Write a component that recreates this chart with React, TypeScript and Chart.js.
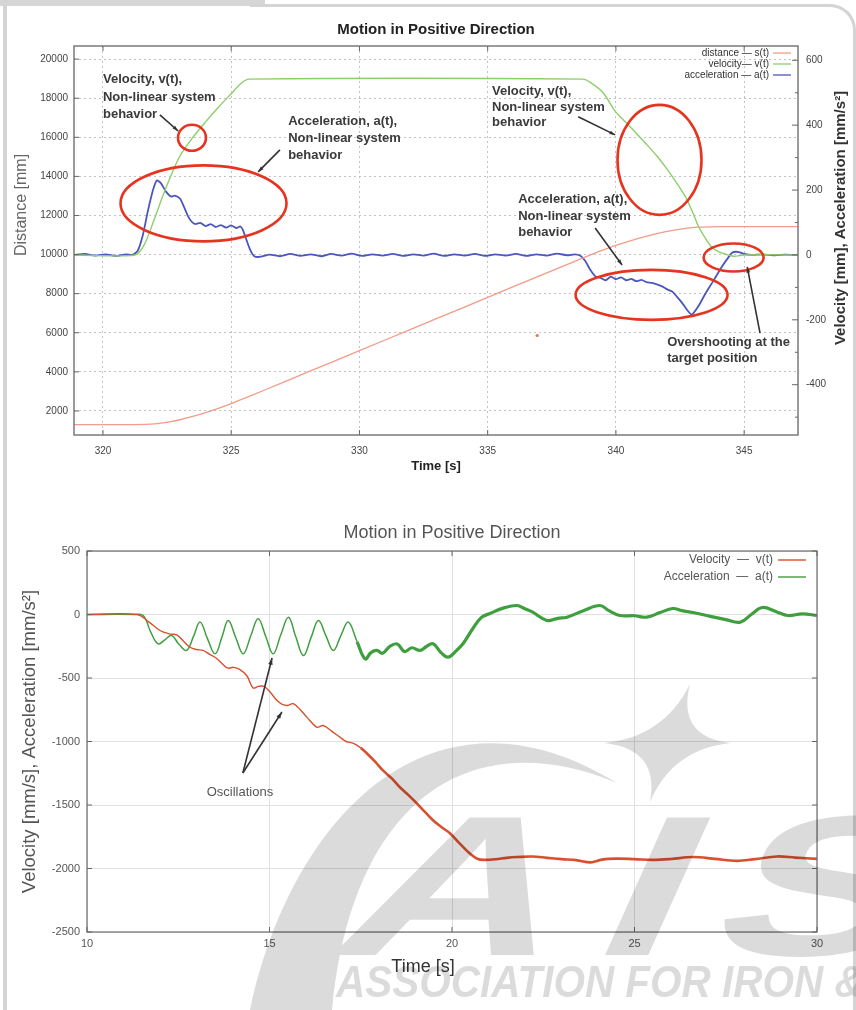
import React, { useEffect, useRef } from 'react';
import { Chart, registerables } from 'chart.js';

Chart.register(...registerables);

const FONT = "'Liberation Sans', Arial, Helvetica, sans-serif";
Chart.defaults.font.family = FONT;

/* ================= TOP CHART DATA ================= */
const topTitle = 'Motion in Positive Direction';
const topTimeTicks = [320, 325, 330, 335, 340, 345];
const topDistanceTicks = [2000, 4000, 6000, 8000, 10000, 12000, 14000, 16000, 18000, 20000];
const topRateTicks = [-400, -200, 0, 200, 400, 600];
const topSeriesLabels = ['distance — s(t)', 'velocity— v(t)', 'acceleration — a(t)'];
const topSeriesColors = ['#f29c89', '#8ccf6a', '#4b57bd'];

// distance s(t) [mm] (left axis): [time s, value]
const topDistance: number[][] = [
  [318.87, 1300], [321.25, 1300], [322.0, 1335], [322.6, 1440], [323.0, 1550], [323.5, 1720],
  [324.0, 1915], [324.5, 2135], [325.0, 2375], [325.7, 2745], [327, 3450], [329, 4540],
  [331, 5630], [333, 6720], [335, 7810], [337, 8900], [338.7, 9820], [339.5, 10240],
  [340.0, 10475], [341.17, 10930], [341.95, 11170], [342.72, 11340], [343.23, 11400],
  [343.74, 11420], [344.28, 11428], [347.1, 11430],
];

// velocity v(t) (right axis)
const topVelocity: number[][] = [
  [318.87, 0], [321.25, 0], [321.6, 30], [322.0, 110], [322.3, 175], [322.6, 235], [323.0, 305],
  [323.5, 362], [324.0, 410], [324.5, 455], [325.0, 497], [325.4, 530], [325.7, 542],
  [338.7, 542], [339.0, 532], [339.5, 500], [340.0, 440], [340.5, 400], [341.17, 343],
  [341.6, 305], [341.95, 269], [342.3, 230], [342.72, 178], [343.0, 130], [343.23, 86],
  [343.5, 50], [343.74, 24], [344.0, 10], [344.28, 2], [344.6, -4], [345.0, 0], [347.1, 0],
];

// acceleration a(t) (right axis)
const topAcceleration: number[][] = [
  [318.87, 0], [319.3, 3], [319.7, -2], [320.1, 2], [320.5, -3], [320.9, 2], [321.15, 0],
  [321.35, 12], [321.55, 60], [321.75, 135], [321.95, 200], [322.1, 230], [322.25, 222],
  [322.45, 196], [322.65, 180], [322.8, 183], [323.0, 174], [323.15, 150], [323.3, 122],
  [323.45, 103], [323.6, 95], [323.8, 99], [324.0, 89], [324.2, 95], [324.4, 86], [324.6, 92],
  [324.8, 84], [325.0, 91], [325.2, 83], [325.35, 88], [325.45, 78], [325.6, 45], [325.75, 14],
  [325.9, -4], [326.1, -6], [326.5, 1], [326.9, -4], [327.3, 3], [327.7, -3], [328.1, 2],
  [328.5, -4], [328.9, 3], [329.3, -2], [329.7, 4], [330.1, -3], [330.5, 2], [330.9, -2],
  [331.3, 3], [331.7, -3], [332.1, 2], [332.5, -2], [332.9, 4], [333.3, -3], [333.7, 2],
  [334.1, -2], [334.5, 3], [334.9, -3], [335.3, 2], [335.7, -2], [336.1, 3], [336.5, -3],
  [336.9, 2], [337.3, -2], [337.7, 4], [338.1, -1], [338.4, 2], [338.6, -2], [338.8, -18],
  [339.0, -46], [339.2, -66], [339.4, -71], [339.6, -78], [339.8, -67], [340.0, -75],
  [340.2, -69], [340.4, -78], [340.6, -74], [340.8, -81], [341.0, -77], [341.2, -84],
  [341.4, -86], [341.6, -91], [341.8, -97], [342.0, -106], [342.2, -113], [342.4, -131],
  [342.6, -150], [342.8, -172], [342.96, -184], [343.2, -160], [343.5, -118], [343.8, -80],
  [344.1, -40], [344.4, -6], [344.55, 8], [344.8, 9], [345.0, 3], [345.3, 0], [345.7, 2],
  [346.2, -1], [346.6, 1], [347.1, 0],
];

// stray red mark in the plot (left axis)
const topStray: number[][] = [[336.93, 5860]];

// annotations (x in s, y on right axis)
const topEllipses = [
  { t: 323.47, v: 361, rx: 14, ry: 13 },
  { t: 323.92, v: 159, rx: 83, ry: 38 },
  { t: 341.7, v: 293, rx: 42, ry: 55 },
  { t: 341.39, v: -123, rx: 76, ry: 25 },
  { t: 344.59, v: -8, rx: 30, ry: 14 },
];
const topNotes = [
  { t: 320.0, v: 540, gap: 17.5, lines: ['Velocity, v(t),', 'Non-linear system', 'behavior'] },
  { t: 327.22, v: 413, gap: 17, lines: ['Acceleration, a(t),', 'Non-linear system', 'behavior'] },
  { t: 335.17, v: 503, gap: 15.5, lines: ['Velocity, v(t),', 'Non-linear system', 'behavior'] },
  { t: 336.19, v: 170, gap: 16.5, lines: ['Acceleration, a(t),', 'Non-linear system', 'behavior'] },
  { t: 342.0, v: -271, gap: 15.5, lines: ['Overshooting at the', 'target position'] },
];
const topArrows = [
  { t1: 322.22, v1: 432, t2: 322.93, v2: 382 },
  { t1: 326.9, v1: 324, t2: 326.05, v2: 256 },
  { t1: 338.53, v1: 426, t2: 339.97, v2: 370 },
  { t1: 339.19, v1: 83, t2: 340.24, v2: -31 },
  { t1: 345.62, v1: -241, t2: 345.12, v2: -37 },
];

/* ================= BOTTOM CHART DATA ================= */
const bottomTitle = 'Motion in Positive Direction';
const bottomTimeTicks = [10, 15, 20, 25, 30];
const bottomValueTicks = [-2500, -2000, -1500, -1000, -500, 0, 500];
const bottomSeriesLabels = ['Velocity  —  v(t)', 'Acceleration  —  a(t)'];
const bottomSeriesColors = ['#d9502f', '#3f9f3f'];

const bottomVelocity: number[][] = [
  [10, 0], [11.37, 0], [11.7, -60], [12.0, -126], [12.25, -152], [12.47, -162], [12.65, -212],
  [12.82, -258], [13.0, -276], [13.18, -282], [13.35, -312], [13.56, -348], [13.72, -392],
  [13.86, -422], [14.02, -416], [14.18, -432], [14.38, -482], [14.55, -578], [14.7, -566],
  [14.85, -566], [15.02, -612], [15.2, -676], [15.35, -708], [15.5, -716], [15.65, -702],
  [15.85, -752], [16.03, -810], [16.3, -888], [16.47, -874], [16.7, -918], [16.93, -966],
  [17.1, -1000], [17.3, -1014], [17.5, -1050], [17.67, -1094], [17.9, -1160], [18.1, -1226],
  [18.35, -1290], [18.58, -1362], [18.8, -1420], [19.04, -1488], [19.25, -1552], [19.48, -1620],
  [19.7, -1672], [19.95, -1724], [20.2, -1800], [20.45, -1872], [20.71, -1925], [20.9, -1932],
  [21.2, -1927], [21.5, -1916], [21.8, -1910], [22.2, -1906], [22.6, -1916], [23.0, -1926],
  [23.4, -1934], [23.8, -1952], [24.1, -1930], [24.5, -1922], [25.0, -1926], [25.5, -1932],
  [26.0, -1925], [26.6, -1910], [27.2, -1924], [27.8, -1940], [28.3, -1926], [28.9, -1905],
  [29.4, -1914], [30, -1924],
];

const bottomAcceleration: number[][] = [
  [10, 0], [11.3, 0], [11.54, -8], [11.75, -140], [11.95, -231], [12.15, -195], [12.32, -165],
  [12.52, -235], [12.73, -283], [12.92, -170], [13.1, -60], [13.3, -190], [13.51, -310],
  [13.7, -175], [13.87, -47], [14.08, -185], [14.28, -310], [14.49, -165], [14.69, -34],
  [14.9, -175], [15.1, -310], [15.31, -160], [15.52, -21], [15.72, -175], [15.93, -323],
  [16.14, -180], [16.34, -47], [16.55, -170], [16.75, -283], [16.95, -170], [17.16, -60],
  [17.4, -215], [17.62, -349], [17.78, -300], [17.94, -283], [18.1, -305], [18.3, -250],
  [18.5, -232], [18.7, -292], [18.9, -262], [19.12, -283], [19.3, -252], [19.48, -231],
  [19.7, -300], [19.89, -336], [20.1, -290], [20.3, -231], [20.55, -120], [20.8, -25],
  [21.04, 8], [21.4, 50], [21.78, 71], [22.0, 45], [22.2, 20], [22.6, -47], [22.9, -30],
  [23.15, -21], [23.6, 30], [24.05, 71], [24.3, 30], [24.6, -8], [25.0, -10], [25.34, -21],
  [25.7, 15], [26.05, 47], [26.3, 30], [26.6, 16], [27.0, -10], [27.5, -40], [27.9, -60],
  [28.2, 0], [28.5, 55], [28.9, 20], [29.2, -8], [29.6, 5], [30, -8],
];

const bottomNote = { t: 14.19, v: -1398, text: 'Oscillations' };
const bottomArrows = [
  { t1: 14.27, v1: -1248, t2: 15.07, v2: -343 },
  { t1: 14.27, v1: -1248, t2: 15.34, v2: -768 },
];

/* ================= helpers ================= */
const toXY = (arr: number[][]) => arr.map(([x, y]) => ({ x, y }));

function drawArrow(ctx: any, x1: number, y1: number, x2: number, y2: number, head: number) {
  ctx.beginPath();
  ctx.moveTo(x1, y1);
  ctx.lineTo(x2, y2);
  ctx.stroke();
  const ang = Math.atan2(y2 - y1, x2 - x1);
  ctx.beginPath();
  ctx.moveTo(x2, y2);
  ctx.lineTo(x2 - head * Math.cos(ang - 0.32), y2 - head * Math.sin(ang - 0.32));
  ctx.lineTo(x2 - head * Math.cos(ang + 0.32), y2 - head * Math.sin(ang + 0.32));
  ctx.closePath();
  ctx.fill();
}

function rotatedText(ctx: any, text: string, x: number, y: number, font: string, color: string) {
  ctx.save();
  ctx.translate(x, y);
  ctx.rotate(-Math.PI / 2);
  ctx.font = font;
  ctx.fillStyle = color;
  ctx.textAlign = 'center';
  ctx.textBaseline = 'middle';
  ctx.fillText(text, 0, 0);
  ctx.restore();
}

function drawWatermark(ctx: any, oy: number) {
  const off = document.createElement('canvas');
  off.width = 856;
  off.height = 505;
  const o = off.getContext('2d') as any;
  o.fillStyle = '#000';
  // crescent swoosh
  o.beginPath();
  o.moveTo(250, 1010 - oy);
  o.bezierCurveTo(290, 820 - oy, 430, 668 - oy, 617, 783 - oy);
  o.bezierCurveTo(470, 722 - oy, 352, 800 - oy, 332, 1010 - oy);
  o.closePath();
  o.fill();
  // four point star
  const cx = 668, cy = 743 - oy;
  const pts = [[690, 684 - oy], [731, 743 - oy], [650, 802 - oy], [604, 743 - oy]];
  o.beginPath();
  o.moveTo(pts[0][0], pts[0][1]);
  for (let i = 1; i <= 4; i++) {
    const p = pts[i % 4];
    const q = pts[i - 1];
    const mx = (p[0] + q[0]) / 2, my = (p[1] + q[1]) / 2;
    o.quadraticCurveTo(cx + (mx - cx) * 0.2, cy + (my - cy) * 0.2, p[0], p[1]);
  }
  o.closePath();
  o.fill();
  // big letters
  o.font = `bold 200px ${FONT}`;
  o.textBaseline = 'alphabetic';
  const letters: [string, number][] = [['A', 325], ['I', 585], ['S', 700]];
  letters.forEach(([ch, lx]) => {
    o.save();
    o.translate(lx, 955 - oy);
    o.transform(1, 0, -0.45, 1, 0, 0);
    o.scale(1.5, 1);
    o.fillText(ch, 0, 0);
    o.restore();
  });
  // tagline
  o.save();
  o.translate(336, 997 - oy);
  o.scale(0.92, 1);
  o.font = `italic bold 44px ${FONT}`;
  o.fillText('ASSOCIATION FOR IRON & STEEL TECHNOLOGY', 0, 0);
  o.restore();

  ctx.save();
  ctx.globalAlpha = 0.14;
  ctx.drawImage(off, 0, 0);
  ctx.restore();
}

/* ================= plugins ================= */
const topDeco = {
  id: 'topDeco',
  afterDraw(chart: any) {
    const { ctx, chartArea: a, scales } = chart;
    const x = scales.x, y = scales.y, y2 = scales.y2;
    ctx.save();
    // frame
    ctx.strokeStyle = '#7a7a7a';
    ctx.lineWidth = 1.5;
    ctx.strokeRect(a.left, a.top, a.right - a.left, a.bottom - a.top);
    // inward ticks
    ctx.lineWidth = 1;
    ctx.strokeStyle = '#666';
    ctx.beginPath();
    topTimeTicks.forEach((v) => {
      const px = x.getPixelForValue(v);
      ctx.moveTo(px, a.bottom); ctx.lineTo(px, a.bottom - 5);
      ctx.moveTo(px, a.top); ctx.lineTo(px, a.top + 5);
    });
    topDistanceTicks.forEach((v) => {
      const py = y.getPixelForValue(v);
      ctx.moveTo(a.left, py); ctx.lineTo(a.left + 5, py);
    });
    for (let v = -500; v <= 600; v += 100) {
      const py = y2.getPixelForValue(v);
      const len = v % 200 === 0 ? 6 : 3;
      ctx.moveTo(a.right, py); ctx.lineTo(a.right - len, py);
    }
    ctx.stroke();

    // legend
    ctx.font = `10px ${FONT}`;
    ctx.textAlign = 'right';
    ctx.textBaseline = 'middle';
    topSeriesLabels.forEach((label, i) => {
      const ly = a.top + 7 + i * 11;
      ctx.fillStyle = '#333';
      ctx.fillText(label, a.right - 29, ly);
      ctx.strokeStyle = topSeriesColors[i];
      ctx.lineWidth = 1.3;
      ctx.beginPath();
      ctx.moveTo(a.right - 25, ly); ctx.lineTo(a.right - 7, ly);
      ctx.stroke();
    });

    // axis titles
    rotatedText(ctx, 'Distance [mm]', 22, 205, `16px ${FONT}`, '#666');
    rotatedText(ctx, 'Velocity [mm], Acceleration [mm/s²]', 841, 218, `bold 15px ${FONT}`, '#333');

    // ellipses
    ctx.strokeStyle = '#e5341f';
    ctx.lineWidth = 2.6;
    topEllipses.forEach((e) => {
      ctx.beginPath();
      ctx.ellipse(x.getPixelForValue(e.t), y2.getPixelForValue(e.v), e.rx, e.ry, 0, 0, Math.PI * 2);
      ctx.stroke();
    });

    // arrows
    ctx.strokeStyle = '#333';
    ctx.fillStyle = '#333';
    ctx.lineWidth = 1.6;
    topArrows.forEach((r) => {
      drawArrow(ctx, x.getPixelForValue(r.t1), y2.getPixelForValue(r.v1),
        x.getPixelForValue(r.t2), y2.getPixelForValue(r.v2), 6);
    });

    // notes
    ctx.font = `bold 13px ${FONT}`;
    ctx.textAlign = 'left';
    ctx.textBaseline = 'middle';
    ctx.fillStyle = '#3a3a3a';
    topNotes.forEach((n) => {
      const px = x.getPixelForValue(n.t);
      const py = y2.getPixelForValue(n.v);
      n.lines.forEach((line, i) => ctx.fillText(line, px, py + i * n.gap));
    });
    ctx.restore();
  },
};

const bottomDeco = {
  id: 'bottomDeco',
  afterDatasetsDraw(chart: any) {
    const { ctx, chartArea: a, scales } = chart;
    const x = scales.x, y = scales.y;
    ctx.save();
    ctx.strokeStyle = '#6d6d6d';
    ctx.lineWidth = 1.2;
    ctx.strokeRect(a.left, a.top, a.right - a.left, a.bottom - a.top);
    ctx.lineWidth = 1;
    ctx.strokeStyle = '#666';
    ctx.beginPath();
    bottomTimeTicks.forEach((v) => {
      const px = x.getPixelForValue(v);
      ctx.moveTo(px, a.bottom); ctx.lineTo(px, a.bottom - 5);
      ctx.moveTo(px, a.top); ctx.lineTo(px, a.top + 5);
    });
    bottomValueTicks.forEach((v) => {
      const py = y.getPixelForValue(v);
      ctx.moveTo(a.left, py); ctx.lineTo(a.left + 5, py);
      ctx.moveTo(a.right, py); ctx.lineTo(a.right - 5, py);
    });
    ctx.stroke();

    // legend
    ctx.font = `12px ${FONT}`;
    ctx.textAlign = 'right';
    ctx.textBaseline = 'middle';
    bottomSeriesLabels.forEach((label, i) => {
      const ly = a.top + 9 + i * 17;
      ctx.fillStyle = '#555';
      ctx.fillText(label, a.right - 44, ly);
      ctx.strokeStyle = bottomSeriesColors[i];
      ctx.lineWidth = 1.4;
      ctx.beginPath();
      ctx.moveTo(a.right - 39, ly); ctx.lineTo(a.right - 11, ly);
      ctx.stroke();
    });

    // x title
    ctx.font = `18px ${FONT}`;
    ctx.textAlign = 'center';
    ctx.fillStyle = '#333';
    ctx.fillText('Time [s]', 423, 462);

    // annotation
    ctx.strokeStyle = '#333';
    ctx.fillStyle = '#333';
    ctx.lineWidth = 1.6;
    bottomArrows.forEach((r) => {
      drawArrow(ctx, x.getPixelForValue(r.t1), y.getPixelForValue(r.v1),
        x.getPixelForValue(r.t2), y.getPixelForValue(r.v2), 7);
    });
    ctx.font = `13px ${FONT}`;
    ctx.fillStyle = '#555';
    ctx.textAlign = 'center';
    ctx.fillText(bottomNote.text, x.getPixelForValue(bottomNote.t), y.getPixelForValue(bottomNote.v));
    ctx.restore();
  },
  afterDraw(chart: any) {
    drawWatermark(chart.ctx, 505);
  },
};

/* ================= configs ================= */
function topConfig(): any {
  const tickFont = { family: FONT, size: 10 };
  return {
    type: 'line',
    data: {
      datasets: [
        { label: topSeriesLabels[0], data: toXY(topDistance), yAxisID: 'y', borderColor: topSeriesColors[0], borderWidth: 1.3, pointRadius: 0, tension: 0.25 },
        { label: topSeriesLabels[1], data: toXY(topVelocity), yAxisID: 'y2', borderColor: topSeriesColors[1], borderWidth: 1.4, pointRadius: 0, tension: 0.3 },
        { label: topSeriesLabels[2], data: toXY(topAcceleration), yAxisID: 'y2', borderColor: topSeriesColors[2], borderWidth: 1.8, pointRadius: 0, tension: 0.2 },
        { label: 'mark', data: toXY(topStray), yAxisID: 'y', showLine: false, pointRadius: 1.6, pointBorderWidth: 0, backgroundColor: '#f07050', borderColor: '#f07050' },
      ],
    },
    options: {
      animation: false,
      responsive: false,
      events: [],
      layout: { padding: 0 },
      plugins: {
        legend: { display: false },
        tooltip: { enabled: false },
        title: {
          display: true, text: topTitle, fullSize: false, color: '#222',
          font: { family: FONT, size: 15, weight: 'bold' }, padding: { top: 21, bottom: 7 },
        },
      },
      scales: {
        x: {
          type: 'linear', min: 318.87, max: 347.1,
          afterBuildTicks: (s: any) => { s.ticks = topTimeTicks.map((v) => ({ value: v })); },
          afterFit: (s: any) => { s.height = 45; },
          grid: { color: '#c2c2c2', lineWidth: 1, drawTicks: false },
          border: { display: false, dash: [2, 3] },
          ticks: { padding: 10, color: '#444', font: tickFont, autoSkip: false, maxRotation: 0, callback: (v: any) => String(v) },
          title: { display: true, text: 'Time [s]', color: '#222', font: { family: FONT, size: 13, weight: 'bold' }, padding: { top: 0, bottom: 6 } },
        },
        y: {
          position: 'left', min: 770, max: 20670,
          afterBuildTicks: (s: any) => { s.ticks = topDistanceTicks.map((v) => ({ value: v })); },
          afterFit: (s: any) => { s.width = 74; },
          grid: { color: '#c2c2c2', lineWidth: 1, drawTicks: false },
          border: { display: false, dash: [2, 3] },
          ticks: { padding: 6, color: '#444', font: tickFont, autoSkip: false, callback: (v: any) => String(v) },
        },
        y2: {
          position: 'right', min: -555, max: 644,
          afterBuildTicks: (s: any) => { s.ticks = topRateTicks.map((v) => ({ value: v })); },
          afterFit: (s: any) => { s.width = 58; },
          grid: { drawOnChartArea: false, drawTicks: false },
          border: { display: false },
          ticks: { padding: 8, color: '#444', font: tickFont, autoSkip: false, callback: (v: any) => String(v) },
        },
      },
    },
    plugins: [topDeco],
  };
}

function bottomConfig(): any {
  const tickFont = { family: FONT, size: 11 };
  const thin = (ctx: any) => (ctx.p0.parsed.x < 17.4 ? 1.4 : 2.6);
  return {
    type: 'line',
    data: {
      datasets: [
        { label: bottomSeriesLabels[0], data: toXY(bottomVelocity), borderColor: bottomSeriesColors[0], borderWidth: 2, pointRadius: 0, tension: 0.35, segment: { borderWidth: thin } },
        { label: bottomSeriesLabels[1], data: toXY(bottomAcceleration), borderColor: bottomSeriesColors[1], borderWidth: 2, pointRadius: 0, tension: 0.4, segment: { borderWidth: (c: any) => (c.p0.parsed.x < 17.4 ? 1.5 : 3.2) } },
      ],
    },
    options: {
      animation: false,
      responsive: false,
      events: [],
      layout: { padding: { left: 0, right: 39, top: 0, bottom: 0 } },
      plugins: {
        legend: { display: false },
        tooltip: { enabled: false },
        title: {
          display: true, text: bottomTitle, fullSize: false, color: '#555',
          font: { family: FONT, size: 18, weight: 'normal' }, padding: { top: 17.2, bottom: 7.2 },
        },
      },
      scales: {
        x: {
          type: 'linear', min: 10, max: 30,
          afterBuildTicks: (s: any) => { s.ticks = bottomTimeTicks.map((v) => ({ value: v })); },
          afterFit: (s: any) => { s.height = 78; },
          grid: { color: '#e0e0e0', lineWidth: 1, drawTicks: false },
          border: { display: false },
          ticks: { padding: 5, color: '#555', font: tickFont, autoSkip: false, maxRotation: 0, callback: (v: any) => String(v) },
        },
        y: {
          position: 'left', min: -2500, max: 500,
          afterBuildTicks: (s: any) => { s.ticks = bottomValueTicks.map((v) => ({ value: v })); },
          afterFit: (s: any) => { s.width = 87; },
          grid: { color: '#e0e0e0', lineWidth: 1, drawTicks: false },
          border: { display: false },
          ticks: { padding: 7, color: '#555', font: tickFont, autoSkip: false, callback: (v: any) => String(v) },
          title: {
            display: true, text: 'Velocity [mm/s], Acceleration [mm/s²]', color: '#555',
            font: { family: FONT, size: 18.5, weight: 'normal' }, padding: { top: 18.9, bottom: 0 },
          },
        },
      },
    },
    plugins: [bottomDeco],
  };
}

export default function App() {
  const topRef = useRef<HTMLCanvasElement>(null);
  const bottomRef = useRef<HTMLCanvasElement>(null);

  useEffect(() => {
    const c1 = new Chart(topRef.current as HTMLCanvasElement, topConfig());
    const c2 = new Chart(bottomRef.current as HTMLCanvasElement, bottomConfig());
    return () => {
      c1.destroy();
      c2.destroy();
    };
  }, []);

  return (
    <div style={{ position: 'absolute', left: 0, top: 0, width: 856, height: 1010, background: '#fff', overflow: 'hidden' }}>
      <div style={{ position: 'absolute', left: 0, top: 0, width: 265, height: 6, background: '#d6d6d6' }} />
      <div style={{ position: 'absolute', left: 3, top: 0, width: 4, height: 1010, background: '#d4d4d4' }} />
      <div style={{ position: 'absolute', left: 250, top: 4, width: 603, height: 1100, borderTop: '3px solid #d4d4d4', borderRight: '3px solid #d4d4d4', borderTopRightRadius: 26, boxSizing: 'content-box' }} />
      <canvas ref={topRef} width={856} height={480} style={{ position: 'absolute', left: 0, top: 0, width: 856, height: 480 }} />
      <canvas ref={bottomRef} width={856} height={505} style={{ position: 'absolute', left: 0, top: 505, width: 856, height: 505 }} />
    </div>
  );
}
